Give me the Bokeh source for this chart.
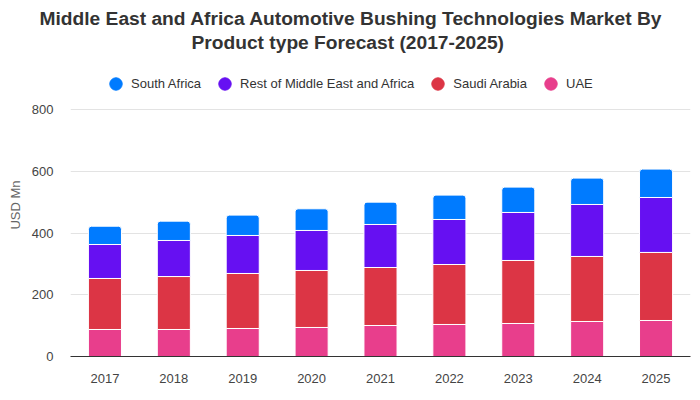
import numpy as np
from bokeh.plotting import figure
from bokeh.models import ColumnDataSource, Legend, LegendItem, FactorRange, Title
from bokeh.embed import file_html
from bokeh.resources import INLINE

years = ["2017", "2018", "2019", "2020", "2021", "2022", "2023", "2024", "2025"]
uae = [87.5, 87.5, 90.7, 94.0, 100.4, 103.7, 106.9, 113.4, 116.6]
saudi_arabia = [165.2, 171.5, 178.2, 184.6, 187.9, 194.3, 204.1, 210.6, 220.4]
rest_mea = [110.1, 116.8, 123.1, 129.6, 139.3, 145.8, 155.5, 168.4, 178.0]
south_africa = [59.2, 62.6, 65.9, 70.2, 72.4, 78.9, 82.1, 85.4, 92.0]

series_names = ["UAE", "Saudi Arabia", "Rest of Middle East and Africa", "South Africa"]
series_values = [uae, saudi_arabia, rest_mea, south_africa]
series_colors = ["#e83e8c", "#dc3545", "#6610f2", "#007bff"]
legend_order = ["South Africa", "Rest of Middle East and Africa", "Saudi Arabia", "UAE"]
y_ticks = [0, 200, 400, 600, 800]

W, H = 700, 400
FL, FR, FT, FB = 70, 10, 53, 44
PX_PER_UNIT = 247 / 800  # axis 0..800 spans 247px
y_top = (H - FT - FB) / PX_PER_UNIT

p = figure(width=W, height=H, x_range=FactorRange(*years), y_range=(0, y_top),
           output_backend="svg", toolbar_location=None,
           min_border_left=FL, min_border_right=FR, min_border_top=FT, min_border_bottom=FB)
p.outline_line_color = None
p.background_fill_color = "white"
p.border_fill_color = "white"

bottom = np.zeros(len(years))
for i, (name, vals, col) in enumerate(zip(series_names, series_values, series_colors)):
    top = bottom + np.array(vals)
    src = ColumnDataSource(dict(x=years, bottom=bottom.copy(), top=top))
    kw = {}
    if i == len(series_names) - 1:
        kw["border_radius"] = (3, 3, 0, 0)
    p.vbar(x="x", bottom="bottom", top="top", width=0.48, source=src,
           fill_color=col, line_color="white", line_width=1, **kw)
    bottom = top

# axes styling
for ax in (p.xaxis, p.yaxis):
    ax.major_tick_out = 0
    ax.major_tick_in = 0
    ax.minor_tick_out = 0
    ax.minor_tick_in = 0
    ax.major_tick_line_color = None
    ax.minor_tick_line_color = None
    ax.major_label_text_font = "Liberation Sans"
    ax.major_label_text_font_size = "13px"
    ax.major_label_text_color = "#444444"

p.yaxis.ticker = y_ticks
p.yaxis.axis_line_color = None
p.yaxis.major_label_standoff = 17
p.yaxis.axis_label = "USD Mn"
p.yaxis.axis_label_text_font = "Liberation Sans"
p.yaxis.axis_label_text_font_size = "13px"
p.yaxis.axis_label_text_font_style = "normal"
p.yaxis.axis_label_text_color = "#666666"
p.yaxis.axis_label_standoff = 6

p.xaxis.axis_line_color = "#333333"
p.xaxis.axis_line_width = 1
p.xaxis.major_label_standoff = 17

p.xgrid.grid_line_color = None
p.ygrid.grid_line_color = "#e3e3e3"
p.ygrid.ticker = y_ticks

# legend inside the (extended) frame; dummy renderers hold only a NaN point
nan = float("nan")
dummy = {}
for name, col in zip(series_names, series_colors):
    dummy[name] = p.scatter(x=[nan], y=[nan], marker="circle", fill_color=col, line_color=col)

G = 31
lg = Legend(items=[LegendItem(label=n, renderers=[dummy[n]]) for n in legend_order],
            location=(30, (H - FB) - 98.5), orientation="horizontal",
            glyph_width=G, glyph_height=G,
            label_standoff=-2, padding=0, margin=0, spacing=8,
            border_line_alpha=0, background_fill_alpha=0,
            label_text_font="Liberation Sans", label_text_font_size="13px",
            label_text_color="#333333", label_height=G)
p.add_layout(lg, "center")

# title (two lines), outermost added last
title_lines = ["Middle East and Africa Automotive Bushing Technologies Market By",
               "Product type Forecast (2017-2025)"]
title_offsets = [-31, 121]
for line, off in reversed(list(zip(title_lines, title_offsets))):
    p.add_layout(Title(text=line, align="left", offset=off, standoff=1,
                       text_font="Liberation Sans", text_font_style="bold",
                       text_font_size="19.2px", text_color="#333333"), "above")

open("out.html", "w").write(file_html(p, INLINE))
